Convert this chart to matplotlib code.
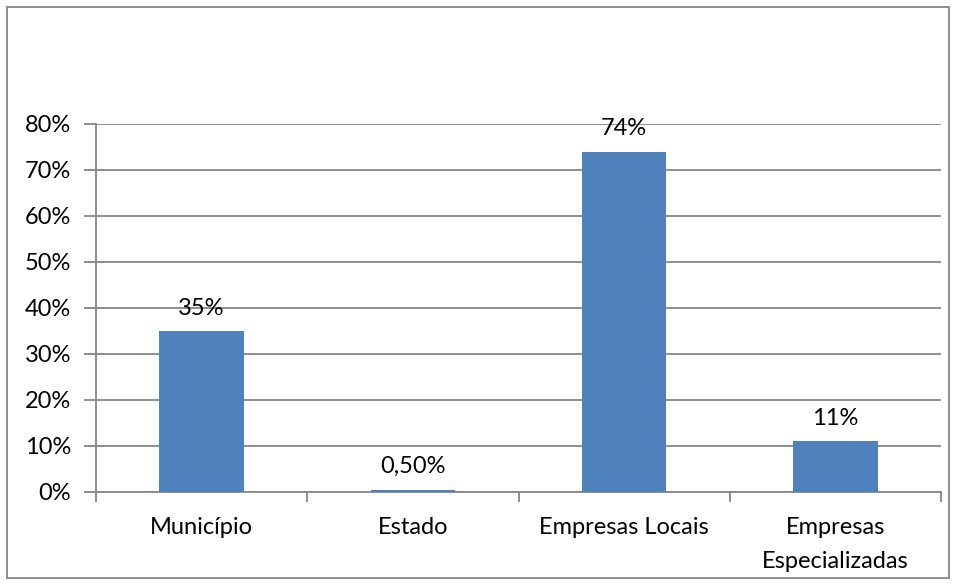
import matplotlib.pyplot as plt
from matplotlib.patches import Rectangle
from matplotlib.ticker import FuncFormatter, FixedLocator

# dados do grafico
categorias = ['Município', 'Estado', 'Empresas Locais', 'Empresas\nEspecializadas']
valores = [35, 0.5, 74, 11]
rotulos = ['35%', '0,50%', '74%', '11%']

plt.rcParams['font.family'] = ['Lato', 'DejaVu Sans']
cinza = '#868686'
fs = 17

fig = plt.figure(figsize=(9.56, 5.85), dpi=100)
ax = fig.add_axes([96/956, 1 - 492/585, (941 - 96)/956, (492 - 124)/585])

x = range(len(categorias))
bars = ax.bar(x, valores, width=0.4, color='#4F81BD', zorder=3)

# rotulos de dados acima das barras
for b, r in zip(bars, rotulos):
    ax.annotate(r, (b.get_x() + b.get_width()/2, b.get_height()),
                xytext=(0, 16.5), textcoords='offset points',
                ha='center', va='center', fontsize=fs, color='black')

ax.set_xlim(-0.5, len(categorias) - 0.5)
ax.set_ylim(0, 80)
ax.set_yticks(range(0, 81, 10))
ax.yaxis.set_major_formatter(FuncFormatter(lambda v, p: f'{int(v)}%'))
ax.yaxis.grid(True, color=cinza, linewidth=1.3, zorder=0)

ax.set_xticks(list(x))
ax.set_xticklabels(categorias, fontsize=fs, linespacing=1.75)
ax.xaxis.set_minor_locator(FixedLocator([i - 0.5 for i in range(len(categorias) + 1)]))
ax.tick_params(axis='x', which='major', length=0, pad=18)
ax.tick_params(axis='x', which='minor', length=7, width=1.3, color=cinza, direction='out')
ax.tick_params(axis='y', length=9, width=1.3, color=cinza, labelsize=fs, pad=9)

for s in ['top', 'right']:
    ax.spines[s].set_visible(False)
for s in ['left', 'bottom']:
    ax.spines[s].set_color(cinza)
    ax.spines[s].set_linewidth(1.3)

# moldura externa
fig.patches.append(Rectangle((7/956, 1 - 578/585), 942/956, 571/585,
                             transform=fig.transFigure, fill=False,
                             edgecolor=cinza, linewidth=1.3))

fig.savefig('out.png', dpi=100)
